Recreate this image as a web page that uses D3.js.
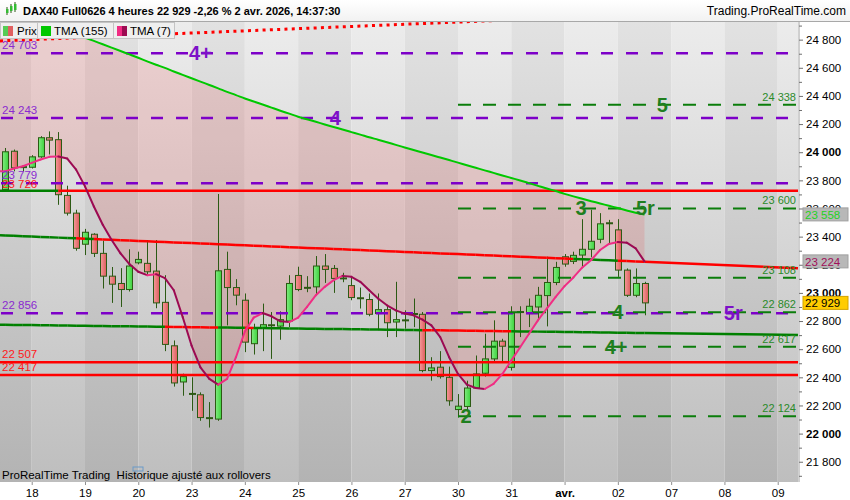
<!DOCTYPE html>
<html><head><meta charset="utf-8">
<script src="https://cdn.jsdelivr.net/npm/d3@7"></script>
<style>
body{margin:0;background:#fff;}
svg{display:block;font-family:"Liberation Sans",Arial,sans-serif;}
</style>
</head><body>
<svg id="c" width="850" height="500"></svg>
<script>
// ---------- DATA ----------
const days = ["17","18","19","20","23","24","25","26","27","30","31","avr.","02","07","08","09"];
const open = [
23734,24007,23893,23893,23967,24103,24089,23693,23567,23346,
23417,23281,23119,23067,23024,23214,23210,23155,22933,22624,
22367,22283,22276,22112,22103,23167,23038,22948,22639,22750,
22768,22764,22800,23124,23029,23043,23191,23174,23105,23052,
22960,22953,22853,22881,22793,22803,22848,22848,22448,22472,
22400,22171,22193,22324,22429,22531,22657,22471,22857,22853,
22900,22981,23074,23257,23224,23269,23310,23381,23493,23448,
23162,22983,23067];
const close = [
24003,23889,23895,23967,24103,24086,23698,23567,23317,23431,
23281,23119,23062,23024,23191,23238,23150,22929,22634,22360,
22405,22281,22114,22108,23157,23038,22984,22650,22753,22774,
22772,22810,23067,23024,23043,23191,23167,23103,23101,22967,
22964,22848,22881,22788,22810,22807,22852,22448,22467,22405,
22233,22195,22324,22424,22531,22657,22621,22857,22871,22905,
22983,23074,23181,23205,23267,23310,23367,23491,23497,23162,
22983,23067,22929];
const high = [
24030,24019,23907,23979,24114,24148,24143,23762,23591,23455,
23424,23371,23184,23176,23310,23293,23376,23376,23126,22662,
22426,22400,22293,22224,23703,23293,23098,22996,22781,22924,
22864,22869,23126,23186,23119,23262,23276,23198,23143,23114,
23038,22996,22996,22912,23079,22876,22960,22864,22543,22586,
22476,22281,22376,22555,22710,22805,22674,22905,22905,22960,
23043,23257,23221,23276,23293,23524,23591,23567,23519,23524,
23174,23174,23079];
const low = [
23720,23864,23864,23884,23960,23984,23626,23550,23300,23269,
23255,23031,22929,22900,23010,23203,23126,22891,22586,22334,
22269,22162,22091,22043,22091,22769,22912,22579,22562,22586,
22531,22667,22757,23012,23005,22991,23071,23000,23076,22948,
22889,22834,22734,22686,22686,22746,22757,22436,22376,22391,
22198,22114,22162,22317,22405,22507,22507,22448,22686,22757,
22805,22762,23055,23186,23205,23186,23253,23353,23353,23114,
22971,22969,22841];
const tma7 = [
23864,23884,23900,23924,23948,23967,23969,23955,23876,23757,
23614,23484,23376,23281,23205,23150,23126,23133,23105,23019,
22829,22626,22471,22389,22348,22389,22543,22726,22824,22857,
22834,22798,22793,22824,22900,22984,23043,23091,23121,23114,
23079,23019,22960,22912,22876,22853,22841,22810,22769,22686,
22543,22424,22348,22324,22317,22353,22424,22519,22614,22710,
22805,22889,22971,23048,23110,23181,23234,23305,23348,23362,
23357,23317,23224];
const tma155 = [
25032,25008,24984,24960,24936,24911,24888,24864,24839,24815,
24791,24767,24743,24719,24695,24671,24646,24622,24599,24574,
24550,24526,24502,24478,24454,24429,24406,24382,24360,24339,
24317,24295,24274,24252,24234,24216,24197,24179,24161,24143,
24125,24106,24089,24071,24052,24034,24016,23998,23980,23962,
23944,23926,23907,23889,23871,23853,23835,23817,23799,23780,
23761,23742,23724,23704,23686,23669,23652,23636,23619,23603,
23586,23570,23558];
const yTicks = [21800,22000,22200,22400,22600,22800,23000,23200,23400,23600,23800,24000,24200,24400,24600,24800];
const yMinorTicks = [21700,21900,22100,22300,22500,22700,22900,23100,23300,23500,23700,23900,24100,24300,24500,24700,24900];
const purpleLevels = [24703, 24243, 23779, 22856];
const redLevels = [22507, 22417];
const redLevelTop = 23726;
const greenTargets = [24338, 23600, 23108, 22862, 22617, 22124];
const upperTrend = [[-0.57, 23410], [89.28, 23176]];
const lowerTrend = [[-0.57, 22774], [89.28, 22701]];
const dottedTrend = [[-0.57, 24791], [57.2, 24941]];
const greenWaveLabels = [["5",74.0,24338],["3",64.85,23600],["5r",72.1,23600],["4",69.0,22862],["4+",68.8,22617],["2",51.9,22124]];
const purpleWaveLabels = [["4+",22.0,24703],["4",37.2,24243],["5r",82.0,22856]];
const lastPrice = 22929;

// ---------- SETUP ----------
const svg = d3.select("#c");
const PR = 798, PT = 21, PB = 482;
const FONT = '"Liberation Sans",Arial,sans-serif';
const x = d3.scaleLinear().domain([0, 72]).range([5.06, 644.5]);
const y = d3.scaleLinear().domain([21656, 24929]).range([482, 21.5]);
const fmt = v => d3.format(",")(v).replace(/,/g, " ");
const defs = svg.append("defs");
function vgrad(id, c1, c2){
  const g = defs.append("linearGradient").attr("id", id).attr("x1",0).attr("x2",0).attr("y1",0).attr("y2",1);
  g.append("stop").attr("offset",0).attr("stop-color",c1);
  g.append("stop").attr("offset",1).attr("stop-color",c2);
}
function hgrad(id, c1, c2){
  const g = defs.append("linearGradient").attr("id", id).attr("x1",0).attr("x2",1).attr("y1",0).attr("y2",0);
  g.append("stop").attr("offset",0).attr("stop-color",c1);
  g.append("stop").attr("offset",1).attr("stop-color",c2);
}
vgrad("bandDark", "#e2e2e2", "#b3b3b3");
vgrad("bandLight", "#ececec", "#bebebe");
vgrad("header", "#ffffff", "#f2f2f2");
hgrad("gUp", "#80ec80", "#3ed23e");
hgrad("gDn", "#f59a9a", "#dc5c5c");
defs.append("clipPath").attr("id","plot").append("rect").attr("x",0).attr("y",PT).attr("width",PR).attr("height",PB-PT);

// background bands
const gb = svg.append("g").attr("clip-path","url(#plot)");
days.forEach((d,i) => {
  const x0 = Math.max(0, x(-3 + 6*i)), x1 = Math.min(PR, x(3 + 6*i));
  if (x1 <= x0) return;
  gb.append("rect").attr("x", x0).attr("y", PT).attr("width", x1 - x0).attr("height", PB-PT)
    .attr("fill", i % 2 === 0 ? "url(#bandDark)" : "url(#bandLight)");
});

const idx = d3.range(close.length);
// drawing positions: the indicator curves continue to the left edge of the plot
const pts = [-0.57].concat(idx);
const at = (arr, s) => arr[Math.max(0, s)];
const plot = svg.append("g").attr("clip-path","url(#plot)");

// pink fill between TMA7 and TMA155
plot.append("path").datum(pts)
  .attr("d", d3.area().x(s => x(s)).y0(s => y(at(tma7,s))).y1(s => y(at(tma155,s))).curve(d3.curveMonotoneX))
  .attr("fill", "rgba(240,70,70,0.17)");

// candles
const cg = plot.append("g");
idx.forEach(i => {
  const up = close[i] >= open[i];
  const cx = Math.round(x(i)) + 0.5;
  cg.append("line").attr("x1",cx).attr("x2",cx).attr("y1",y(high[i])).attr("y2",y(low[i]))
    .attr("stroke","#2c5a14").attr("stroke-width",1);
  const yt = y(Math.max(open[i],close[i])), yb = y(Math.min(open[i],close[i]));
  if (yb - yt < 2) {
    cg.append("rect").attr("x",cx-3.5).attr("y",(yt+yb)/2-1).attr("width",7).attr("height",2).attr("fill","#2c5a14");
  } else {
    cg.append("rect").attr("x",cx-3).attr("y",yt).attr("width",6).attr("height",yb-yt)
      .attr("fill", up ? "url(#gUp)" : "url(#gDn)").attr("stroke","#2c5a14").attr("stroke-width",1);
  }
});

// purple dashed levels
purpleLevels.forEach(v => {
  plot.append("line").attr("x1",1).attr("x2",PR).attr("y1",y(v)).attr("y2",y(v))
    .attr("stroke","#7d00c8").attr("stroke-width",2.5).attr("stroke-dasharray","12,13");
});
// green dashed targets
greenTargets.forEach(v => {
  plot.append("line").attr("x1",x(51)).attr("x2",PR).attr("y1",y(v)).attr("y2",y(v))
    .attr("stroke","#0b7d0b").attr("stroke-width",2).attr("stroke-dasharray","13,12");
});
// red levels
redLevels.forEach(v => {
  plot.append("line").attr("x1",0).attr("x2",PR).attr("y1",y(v)).attr("y2",y(v))
    .attr("stroke","#ff0000").attr("stroke-width",2.5);
});
plot.append("line").attr("x1",0).attr("x2",x(6)).attr("y1",y(redLevelTop)).attr("y2",y(redLevelTop))
  .attr("stroke","#008000").attr("stroke-width",2.5);
plot.append("line").attr("x1",x(6)).attr("x2",PR).attr("y1",y(redLevelTop)).attr("y2",y(redLevelTop))
  .attr("stroke","#ff0000").attr("stroke-width",2.5);

// trend lines coloured by price position
function trendVal(t, s){ return t[0][1] + (t[1][1]-t[0][1]) * (s - t[0][0]) / (t[1][0]-t[0][0]); }
function drawTrend(t){
  const s0 = t[0][0], s1 = t[1][0];
  const bounds = [s0].concat(idx.filter(i => i > s0 && i < s1)).concat([s1]);
  for (let j = 0; j < bounds.length - 1; j++) {
    const a = bounds[j], b = bounds[j+1];
    const k = Math.max(0, Math.min(close.length-1, Math.floor(a)));
    const col = close[k] >= trendVal(t, k) ? "#008000" : "#ff0000";
    plot.append("line").attr("x1",x(a)).attr("x2",x(b)).attr("y1",y(trendVal(t,a))).attr("y2",y(trendVal(t,b)))
      .attr("stroke",col).attr("stroke-width",2.5);
  }
}
drawTrend(upperTrend);
drawTrend(lowerTrend);
plot.append("line").attr("x1",x(dottedTrend[0][0])).attr("x2",x(dottedTrend[1][0]))
  .attr("y1",y(dottedTrend[0][1])).attr("y2",y(dottedTrend[1][1]))
  .attr("stroke","#ff0000").attr("stroke-width",3).attr("stroke-dasharray","3,4.3");

// TMA155
plot.append("path").datum(pts)
  .attr("d", d3.line().x(s => x(s)).y(s => y(at(tma155,s))).curve(d3.curveMonotoneX))
  .attr("fill","none").attr("stroke","#00c800").attr("stroke-width",2);
// TMA7 coloured by slope
for (let j = 0; j < pts.length - 1; j++) {
  const a = pts[j], b = pts[j+1];
  const col = at(tma7,b) >= at(tma7,a) ? "#f02d84" : "#9c0a52";
  plot.append("line").attr("x1",x(a)).attr("x2",x(b)).attr("y1",y(at(tma7,a))).attr("y2",y(at(tma7,b)))
    .attr("stroke",col).attr("stroke-width",2).attr("stroke-linecap","round");
}

// level labels (left)
const lblFont = 11.5;
purpleLevels.forEach(v => {
  svg.append("text").attr("x",2).attr("y",y(v)-4).attr("font-size",lblFont).attr("fill","#8a2ad0").text(fmt(v));
});
svg.append("text").attr("x",2).attr("y",y(redLevelTop)-3).attr("font-size",lblFont).attr("fill","#ff1a1a").text(fmt(redLevelTop));
redLevels.forEach(v => {
  svg.append("text").attr("x",2).attr("y",y(v)-4).attr("font-size",lblFont).attr("fill","#ff1a1a").text(fmt(v));
});
// target labels (right, inside plot)
greenTargets.forEach(v => {
  svg.append("text").attr("x",796).attr("y",y(v)-4).attr("text-anchor","end").attr("font-size",11)
    .attr("fill","#2a8a2a").text(fmt(v));
});
// wave labels
greenWaveLabels.forEach(([t,s,v]) => {
  svg.append("text").attr("x",x(s)).attr("y",y(v)+7).attr("text-anchor","middle").attr("font-size",20)
    .attr("font-weight","bold").attr("fill","#1f7f1f").text(t);
});
purpleWaveLabels.forEach(([t,s,v]) => {
  svg.append("text").attr("x",x(s)).attr("y",y(v)+7).attr("text-anchor","middle").attr("font-size",20)
    .attr("font-weight","bold").attr("fill","#7d10c8").text(t);
});

// ---------- AXES ----------
svg.append("rect").attr("x",799).attr("y",PT).attr("width",51).attr("height",479).attr("fill","#fff");
svg.append("rect").attr("x",0).attr("y",PB).attr("width",850).attr("height",18).attr("fill","#fff");
const ya = svg.append("g").attr("transform","translate(799,0)")
  .call(d3.axisRight(y).tickValues(yTicks).tickSize(4).tickPadding(3).tickFormat(fmt));
ya.select(".domain").attr("stroke","#a0a0a0").attr("d","M0,"+PT+"V"+PB);
ya.selectAll(".tick line").attr("stroke","#707070");
ya.selectAll(".tick text").attr("font-size",11.5).attr("fill","#000").attr("font-family",FONT)
  .attr("font-weight", d => d % 1000 === 0 ? "bold" : "normal");
const ym = svg.append("g").attr("transform","translate(799,0)")
  .call(d3.axisRight(y).tickValues(yMinorTicks).tickSize(3).tickFormat(""));
ym.select(".domain").remove();
ym.selectAll(".tick line").attr("stroke","#707070");

const xa = svg.append("g").attr("transform","translate(0,"+PB+")")
  .call(d3.axisBottom(x).tickValues(days.map((d,i)=>-3+6*i).filter(s=>x(s)>0)).tickSize(3).tickPadding(4)
    .tickFormat(s => days[(s+3)/6]));
xa.select(".domain").remove();
xa.selectAll(".tick line").attr("stroke","#909090");
xa.selectAll(".tick text").attr("font-size",11.5).attr("fill","#000").attr("font-family",FONT)
  .attr("font-weight", s => days[(s+3)/6] === "avr." ? "bold" : "normal");

// value boxes on axis
function valBox(v, bg, fg, border){
  const yy = y(v);
  svg.append("rect").attr("x",803).attr("y",yy-6.5).attr("width",45).attr("height",13).attr("fill",bg).attr("stroke",border).attr("stroke-width",1);
  svg.append("text").attr("x",805).attr("y",yy+4.5).attr("font-size",11.5).attr("fill",fg).text(fmt(v));
}
valBox(tma155[tma155.length-1], "#b8b8b8", "#1fd21f", "#a0a0a0");
valBox(tma7[tma7.length-1], "#b8b8b8", "#a0105a", "#a0a0a0");
valBox(lastPrice, "#ffcc00", "#000", "#d4a400");

// bottom note
svg.append("text").attr("x",2).attr("y",479).attr("font-size",11.5).attr("fill","#000")
  .style("white-space","pre").text("ProRealTime Trading  Historique ajusté aux rollovers");
// small icon
svg.append("rect").attr("x",133).attr("y",467).attr("width",10).attr("height",4).attr("fill","none").attr("stroke","#6a9ac8");

// ---------- HEADER ----------
svg.append("rect").attr("x",0).attr("y",0).attr("width",850).attr("height",21).attr("fill","url(#header)");
svg.append("line").attr("x1",0).attr("x2",850).attr("y1",21.5).attr("y2",21.5).attr("stroke","#a8a8a8");
// small candle icon
[[6,9,4,"#33bb33"],[10,6,5,"#33bb33"],[14,4,6,"#33bb33"]].forEach(([xx,yy,h,c]) => {
  svg.append("line").attr("x1",xx+1).attr("x2",xx+1).attr("y1",yy-2).attr("y2",yy+h+2).attr("stroke","#2c5a14");
  svg.append("rect").attr("x",xx).attr("y",yy).attr("width",2.5).attr("height",h).attr("fill",c);
});
svg.append("text").attr("x",23).attr("y",15).attr("font-size",11).attr("font-weight","bold").attr("fill","#000")
  .text("DAX40 Full0626 4 heures 22 929 -2,26 % 2 avr. 2026, 14:37:30");
svg.append("text").attr("x",846).attr("y",15).attr("text-anchor","end").attr("font-size",12).attr("fill","#000")
  .text("Trading.ProRealTime.com");

// legend
const leg = [["Prix",0,37],["TMA (155)",37,76],["TMA (7)",113,61]];
leg.forEach(([t,x0,w],i) => {
  svg.append("rect").attr("x",x0+0.5).attr("y",22.5).attr("width",w).attr("height",16).attr("fill","#efefef").attr("stroke","#c4c4c4");
  if (i === 0) {
    svg.append("rect").attr("x",x0+3).attr("y",26).attr("width",5).attr("height",10).attr("fill","#55cc55");
    svg.append("rect").attr("x",x0+8).attr("y",26).attr("width",5).attr("height",10).attr("fill","#e06060");
  } else if (i === 1) {
    svg.append("rect").attr("x",x0+4).attr("y",26).attr("width",10).attr("height",10).attr("fill","#00c800");
  } else {
    svg.append("rect").attr("x",x0+4).attr("y",26).attr("width",5).attr("height",10).attr("fill","#f02d84");
    svg.append("rect").attr("x",x0+9).attr("y",26).attr("width",5).attr("height",10).attr("fill","#9c0a52");
  }
  svg.append("text").attr("x",x0+17).attr("y",35).attr("font-size",11.5).attr("fill","#000").text(t);
});
</script>
</body></html>
